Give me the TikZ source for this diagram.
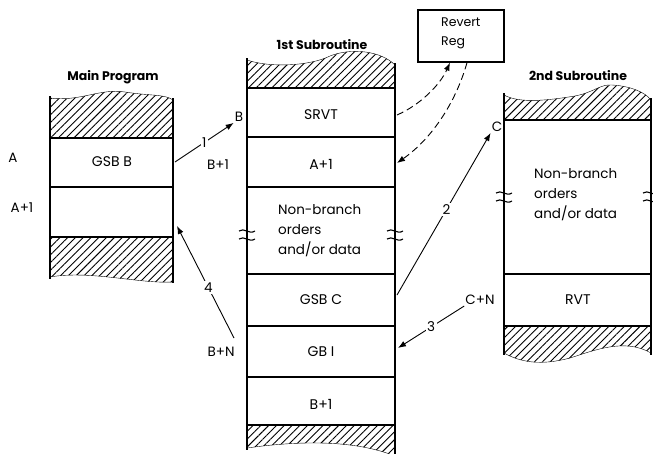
\documentclass[tikz,border=0pt]{standalone}
\usepackage{fontspec}
\setmainfont{Poppins}
\usetikzlibrary{patterns.meta,arrows.meta,positioning}

\tikzset{
  hatch/.style={pattern={Lines[angle=45,distance=5.5pt,line width=0.9pt]}},
  wall/.style={line width=1.6pt},
  rowline/.style={line width=1.2pt},
  cell/.style={font=\fontsize{14}{16}\selectfont, inner sep=1pt},
  caption/.style={font=\fontsize{12.5}{14}\selectfont\bfseries, inner sep=1pt},
  addr/.style={font=\fontsize{13.5}{15}\selectfont, inner sep=1pt},
  jump/.style={-{Latex[length=8pt,width=6pt]}, line width=0.9pt},
  back/.style={jump, dash pattern=on 7pt off 4pt},
  num/.style={font=\fontsize{13.5}{15}\selectfont, fill=white, inner sep=1.5pt},
}
% break mark across a wall
\def\breakmark(#1,#2){%
  \draw[line width=1.1pt] (#1-8,#2-4) .. controls (#1-3,#2-8) and (#1+2,#2) .. (#1+8,#2-4);
  \draw[line width=1.1pt] (#1-8,#2+4) .. controls (#1-3,#2) and (#1+2,#2+8) .. (#1+8,#2+4);}

\begin{document}
\begin{tikzpicture}[x=1pt,y=-1pt]
			%%%%% START %%%%%
			\useasboundingbox (0,0) rectangle (653,453);

			%% main program
			\draw[hatch] (50,138) -- (50,98) .. controls (80,102) and (100,88) .. (125,92)
			  .. controls (150,96) and (165,94) .. (173,100) -- (173,138) -- cycle;
			\draw[hatch] (50,237) -- (50,277) .. controls (90,270) and (140,284) .. (173,282) -- (173,237) -- cycle;
			\draw[wall] (50,96) -- (50,279);
			\draw[wall] (173,98) -- (173,283);
			\draw[rowline] (50,138) -- (173,138);
			\draw[rowline] (50,187) -- (173,187);
			\draw[rowline] (50,237) -- (173,237);

			\node[caption] (mainTitle) at (113,77) {Main Program};
			\node[cell] (gsbB) at (112,162) {GSB B};
			\node[addr] (adrA) at (13,158) {A};
			\node[addr] (adrA1) at (22,208) {A+1};

			%% 1st subroutine
			\draw[hatch] (247,88) -- (247,60) .. controls (270,68) and (310,66) .. (330,56)
			  .. controls (350,48) and (380,50) .. (395,65) -- (395,88) -- cycle;
			\draw[hatch] (247,425) -- (247,448) .. controls (290,442) and (350,438) .. (395,456) -- (395,425) -- cycle;
			\draw[wall] (247,58) -- (247,450);
			\draw[wall] (395,63) -- (395,456);
			\foreach \y in {88,137,187,274,326,377,425}
			  \draw[rowline] (247,\y) -- (395,\y);
			\breakmark(247,235)
			\breakmark(395,235)

			\node[caption] (subTitle) at (322,45) {1st Subroutine};
			\node[cell] (srvt) at (321,115) {SRVT};
			\node[cell] (retA) at (321,164) {A+1};
			\node[cell, align=left, anchor=north west, font=\fontsize{13.5}{20}\selectfont] (bodyB) at (277,203) {Non-branch\\orders\\and/or data};
			\node[cell] (gsbC) at (321,300) {GSB C};
			\node[cell] (gbI) at (321,352) {GB I};
			\node[cell] (retB) at (321,404) {B+1};
			\node[addr] (adrB) at (239,117) {B};
			\node[addr] (adrB1) at (218,165) {B+1};
			\node[addr] (adrBN) at (221,352) {B+N};

			%% revert register
			\node[draw, line width=1.3pt, minimum width=86pt, minimum height=52pt] (revert) at (461,36) {};
			\node[cell, align=left, anchor=north west, font=\fontsize{12.5}{19}\selectfont] (revertTxt) at (440,17) {Revert\\Reg};

			%% 2nd subroutine
			\draw[hatch] (504,120) -- (504,95) .. controls (520,104) and (550,100) .. (575,96)
			  .. controls (595,92) and (600,84) .. (612,85) .. controls (630,86) and (645,92) .. (651,100) -- (651,120) -- cycle;
			\draw[hatch] (504,326) -- (504,353) .. controls (520,362) and (540,366) .. (570,358)
			  .. controls (595,350) and (625,338) .. (651,353) -- (651,326) -- cycle;
			\draw[wall] (504,93) -- (504,355);
			\draw[wall] (651,98) -- (651,355);
			\draw[rowline] (504,120) -- (651,120);
			\draw[rowline] (504,274) -- (651,274);
			\draw[rowline] (504,326) -- (651,326);
			\breakmark(504,197)
			\breakmark(651,197)

			\node[caption] (sub2Title) at (578,76) {2nd Subroutine};
			\node[cell, align=left, anchor=north west, font=\fontsize{13.5}{20}\selectfont] (bodyC) at (533,167) {Non-branch\\orders\\and/or data};
			\node[cell] (rvt) at (578,300) {RVT};
			\node[addr] (adrC) at (497,127) {C};
			\node[addr] (adrCN) at (480,300) {C+N};

			%% jumps
			\coordinate (outGsbB) at (175,162);
			\coordinate (inRetA) at (177,226);
			\coordinate (outGsbC) at (397,295);
			\coordinate (inGbI) at (398,348);
			\coordinate (outSrvt) at (397,115);
			\coordinate (inA1) at (397,163);
			\coordinate (fromBN) at (234,338);

			\draw[jump] (outGsbB) -- node[num] {1} (adrB.south west);
			\draw[jump] (fromBN) -- node[num, pos=.45] {4} (inRetA);
			\draw[jump] (outGsbC) -- node[num, pos=.53] {2} (adrC.south west);
			\draw[jump] (adrCN.south west) -- node[num] {3} (inGbI);
			\draw[back] (outSrvt) .. controls (420,105) and (440,85) .. (revert.south west -| 450,0);
			\draw[back] (revert.south) ++(6,0) .. controls (455,105) and (430,140) .. (inA1);

			%%%%% END %%%%%
\end{tikzpicture}
\end{document}
